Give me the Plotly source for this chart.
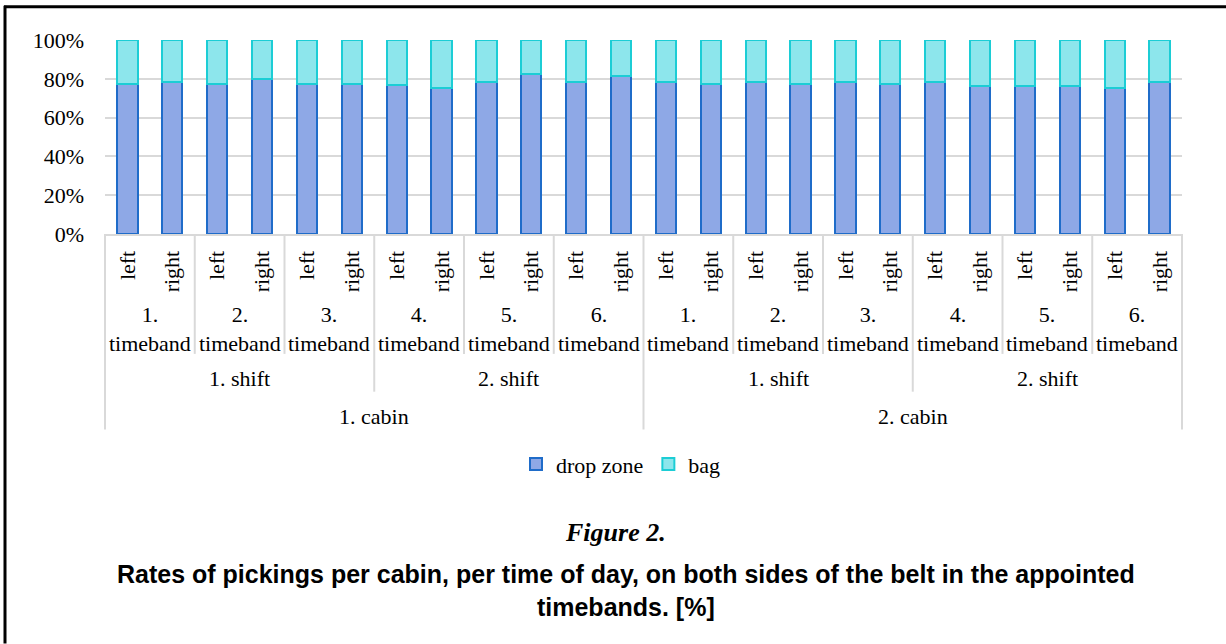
import plotly.graph_objects as go

# ---------------- data ----------------
cabins = ["1. cabin", "2. cabin"]
shifts = ["1. shift", "2. shift"]
timebands = ["1.<br>timeband", "2.<br>timeband", "3.<br>timeband",
             "4.<br>timeband", "5.<br>timeband", "6.<br>timeband"]
sides = ["left", "right"]

drop_zone = [77.5, 78.3, 77.5, 80.0, 77.5, 77.5, 76.6, 75.4, 78.6, 82.6, 78.6, 81.2,
             78.6, 77.4, 78.1, 77.4, 78.6, 77.4, 78.6, 76.1, 76.1, 76.1, 75.4, 78.6]
bag = [22.5, 21.7, 22.5, 20.0, 22.5, 22.5, 23.4, 24.6, 21.4, 17.4, 21.4, 18.8,
       21.4, 22.6, 21.9, 22.6, 21.4, 22.6, 21.4, 23.9, 23.9, 23.9, 24.6, 21.4]

title_lines = ["Rates of pickings per cabin, per time of day, on both sides of the belt in the appointed",
               "timebands. [%]"]

# ---------------- layout geometry ----------------
W, H = 1226, 644
L, R = 105, 1182        # plot area pixel bounds
T, B = 39.5, 234.5

def px_x(p):
    return (p - L) / (R - L)

def px_y(p):
    return (B - p) / (B - T)

n_side = len(sides)
n_tb_per_shift = len(timebands) // len(shifts)
n_per_cabin = len(timebands) * n_side
N = len(cabins) * n_per_cabin
xs = list(range(N))

SERIF = "Liberation Serif"
GRID = "#d9d9d9"
FS = 22

fig = go.Figure()
fig.add_trace(go.Bar(
    x=xs, y=drop_zone, name="drop zone",
    marker=dict(color="#8ea8e6", line=dict(color="#1f6cc9", width=2)),
))
fig.add_trace(go.Bar(
    x=xs, y=bag, name="bag",
    marker=dict(color="#8de6ec", line=dict(color="#1ccdd5", width=2)),
))

shapes = []
annotations = []

def label(x, y_px, text, xref="x", size=FS, family=SERIF):
    annotations.append(dict(x=x, y=px_y(y_px), xref=xref, yref="paper",
                            text=text, showarrow=False, align="center",
                            font=dict(family=family, size=size, color="#000"),
                            xanchor="center", yanchor="middle"))

# timeband dividers + labels
tb_all = [(c, t) for c in range(len(cabins)) for t in range(len(timebands))]
for k, (c, t) in enumerate(tb_all):
    x0 = k * n_side - 0.5
    center = k * n_side + (n_side - 1) / 2
    label(center, 330, timebands[t])
    if k > 0:
        level_end = 355
        if t == 0:
            level_end = 431
        elif t % n_tb_per_shift == 0:
            level_end = 393
        shapes.append(dict(type="line", xref="x", yref="paper",
                           x0=x0, x1=x0, y0=px_y(B), y1=px_y(level_end),
                           line=dict(color=GRID, width=2)))

# shift and cabin labels
for c in range(len(cabins)):
    for s in range(len(shifts)):
        start = c * n_per_cabin + s * n_tb_per_shift * n_side
        center = start + (n_tb_per_shift * n_side - 1) / 2
        label(center, 380, shifts[s])
    center = c * n_per_cabin + (n_per_cabin - 1) / 2
    label(center, 418, cabins[c])

# outer edges of category table
for xp in (0, 1):
    shapes.append(dict(type="line", xref="paper", yref="paper",
                       x0=xp, x1=xp, y0=px_y(B), y1=px_y(431),
                       line=dict(color=GRID, width=2)))

# frame lines (top and left)
shapes.append(dict(type="line", xref="paper", yref="paper",
                   x0=px_x(4), x1=px_x(W + 2), y0=px_y(6), y1=px_y(6),
                   line=dict(color="#000", width=3)))
shapes.append(dict(type="line", xref="paper", yref="paper",
                   x0=px_x(5), x1=px_x(5), y0=px_y(5), y1=px_y(H + 2),
                   line=dict(color="#000", width=3)))

# captions
label(px_x(615), 535, "<b><i>Figure 2.</i></b>", xref="paper", size=26)
label(px_x(626), 593, "<b>" + "<br>".join(title_lines) + "</b>", xref="paper", size=25,
      family="Liberation Sans")

fig.update_layout(
    width=W, height=H,
    margin=dict(l=L, r=W - R, t=T, b=H - B, pad=0),
    paper_bgcolor="white", plot_bgcolor="white",
    barmode="stack", bargap=0.55,
    showlegend=True,
    legend=dict(orientation="h", x=px_x(621), xanchor="center",
                y=px_y(466), yanchor="middle",
                font=dict(family=SERIF, size=FS, color="#000"),
                itemwidth=30, traceorder="normal"),
    xaxis=dict(range=[-0.5, N - 0.5], tickmode="array", tickvals=xs,
               ticktext=[sides[i % n_side] for i in xs], tickangle=-90,
               tickfont=dict(family=SERIF, size=FS, color="#000"),
               showgrid=False, showline=True, linecolor=GRID, linewidth=2,
               ticks="", ticklabelstandoff=6, zeroline=False, fixedrange=True),
    yaxis=dict(range=[0, 100], dtick=20, ticksuffix="%",
               tickfont=dict(family=SERIF, size=FS, color="#000"),
               showgrid=True, gridcolor=GRID, gridwidth=2,
               showline=False, zeroline=False, ticks="",
               ticklabelstandoff=20, fixedrange=True),
    shapes=shapes, annotations=annotations,
)

fig.write_html("out.html", config={"displayModeBar": False},
               post_script="document.body.style.margin='0';document.body.style.overflow='hidden';")
